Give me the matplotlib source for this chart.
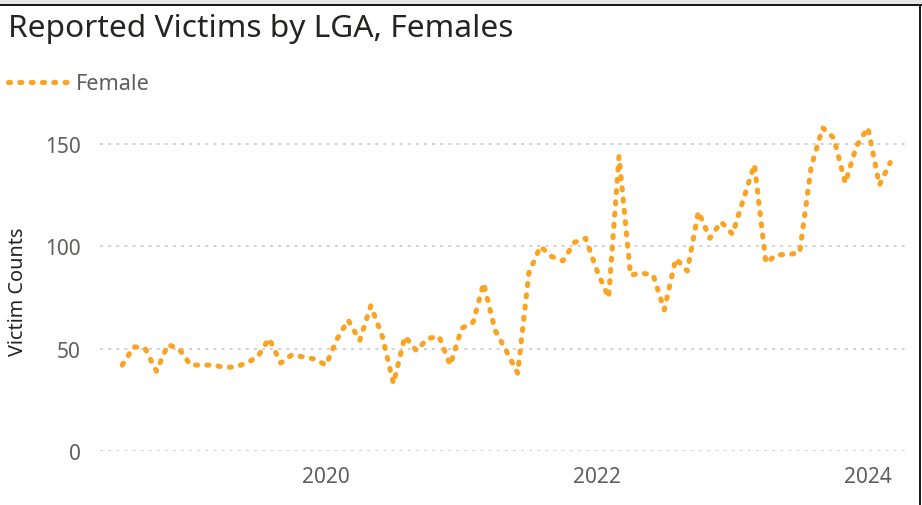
import pandas as pd
import numpy as np
import matplotlib
matplotlib.use("Agg")
import matplotlib.pyplot as plt
from matplotlib.patches import Rectangle

OUT = "out.png"

# Monthly reported female victims, July 2018 - March 2024
start_month = "2018-07-01"
victims_2018 = [42, 51, 50, 39, 52, 50]
victims_2019 = [42, 42, 42, 41, 41, 43, 46, 55, 43, 47, 46, 45]
victims_2020 = [42, 55, 64, 54, 71, 56, 33, 56, 49, 55, 56, 42]
victims_2021 = [60, 63, 82, 59, 49, 38, 87, 100, 95, 93, 102, 104]
victims_2022 = [88, 75, 144, 86, 87, 86, 69, 94, 88, 117, 104, 112]
victims_2023 = [106, 124, 140, 92, 96, 96, 97, 139, 158, 153, 131, 149]
victims_2024 = [158, 130, 141]

year_ticks = ["2020-01-01", "2022-01-01", "2024-01-01"]
year_labels = ["2020", "2022", "2024"]
y_ticks = [0, 50, 100, 150]

LINE_COLOR = "#FAA425"
TEXT_DARK = "#252423"
TEXT_GRAY = "#605E5C"
GRID_COLOR = "#C8C6C4"
FONT = "Noto Sans"


def plot_victims(out_file):
    values = (victims_2018 + victims_2019 + victims_2020 + victims_2021
              + victims_2022 + victims_2023 + victims_2024)
    months = pd.date_range(start_month, periods=len(values), freq="MS")

    plt.rcParams["font.family"] = [FONT, "DejaVu Sans"]

    W, H = 922, 506
    fig = plt.figure(figsize=(W / 100, H / 100), dpi=100)
    fig.patch.set_facecolor("white")

    # plot area in pixels: x 100..908, y 120..452 (from top)
    ax = fig.add_axes([100 / W, (H - 452) / H, 808 / W, 332 / H])
    ax.set_facecolor("white")

    line, = ax.plot(months, values, color=LINE_COLOR, linewidth=3.7,
                    dash_capstyle="round", solid_joinstyle="round",
                    label="Female")
    line.set_dashes((0.4, 1.8))

    ax.set_ylim(0, 162.3)
    ax.set_xlim(pd.Timestamp("2018-05-02"), pd.Timestamp("2024-04-18"))

    ax.set_yticks(y_ticks)
    ax.set_xticks(pd.to_datetime(year_ticks))
    ax.set_xticklabels(year_labels)
    ax.tick_params(axis="both", length=0, labelsize=15, labelcolor=TEXT_GRAY)
    ax.tick_params(axis="y", pad=14)
    ax.tick_params(axis="x", pad=11)

    for side in ax.spines.values():
        side.set_visible(False)

    # dashed horizontal gridlines
    ax.grid(axis="y", color=GRID_COLOR, linewidth=1.1)
    ax.grid(axis="x", visible=False)
    for g in ax.get_ygridlines():
        g.set_dashes((2.0, 3.3))
    ax.set_axisbelow(True)

    # title, axis label and legend
    fig.text(8 / W, 1 - 29 / H, "Reported Victims by LGA, Females",
             fontsize=22.8, color=TEXT_DARK, va="center", ha="left")
    fig.text(18 / W, 1 - 292 / H, "Victim Counts", rotation=90,
             fontsize=14.3, color=TEXT_DARK, va="center", ha="center")
    leg = fig.legend(handles=[line], loc="center left",
                     bbox_to_anchor=(8 / W, 1 - 85 / H), frameon=False,
                     fontsize=15.6, handlelength=2.85, handletextpad=0.3,
                     borderpad=0, borderaxespad=0)
    for t in leg.get_texts():
        t.set_color(TEXT_GRAY)

    # window frame: grey strip on top, dark edges
    fig.add_artist(Rectangle((0, 1 - 5 / H), 1, 5 / H, transform=fig.transFigure,
                             facecolor="#E6E6E6", edgecolor="none"))
    fig.add_artist(Rectangle((0, 1 - 7 / H), 1, 2 / H, transform=fig.transFigure,
                             facecolor="#1A1A1A", edgecolor="none"))
    fig.add_artist(Rectangle((919 / W, 0), 2 / W, 1 - 5 / H,
                             transform=fig.transFigure,
                             facecolor="#1A1A1A", edgecolor="none"))

    fig.savefig(out_file, dpi=100)
    plt.close(fig)


if __name__ == "__main__":
    plot_victims(OUT)
